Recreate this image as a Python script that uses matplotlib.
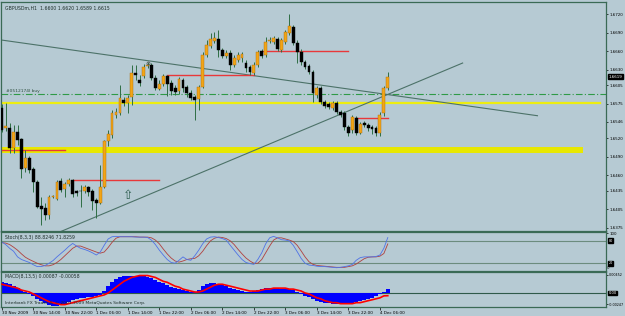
import matplotlib
matplotlib.use('Agg')
import matplotlib.pyplot as plt
import numpy as np

# GBPUSDm H1 bars, 30 Nov 2009 06:00 .. 4 Dec 2009 08:00
opens = [1.6568, 1.6536, 1.6536, 1.6504, 1.6530, 1.6518, 1.6472, 1.6488, 1.6470, 1.6449,
         1.6410, 1.6407, 1.6396, 1.6425, 1.6422, 1.6451, 1.6438, 1.6446, 1.6452, 1.6435,
         1.6435, 1.6435, 1.6441, 1.6435, 1.6420, 1.6415, 1.6441, 1.6515, 1.6525, 1.6557,
         1.6560, 1.6581, 1.6577, 1.6586, 1.6625, 1.6614, 1.6620, 1.6636, 1.6638, 1.6617,
         1.6599, 1.6607, 1.6620, 1.6609, 1.6601, 1.6596, 1.6614, 1.6602, 1.6593, 1.6586,
         1.6583, 1.6602, 1.6654, 1.6668, 1.6677, 1.6680, 1.6662, 1.6652, 1.6657, 1.6638,
         1.6646, 1.6649, 1.6641, 1.6635, 1.6625, 1.6638, 1.6660, 1.6654, 1.6677, 1.6675,
         1.6680, 1.6662, 1.6675, 1.6689, 1.6699, 1.6673, 1.6659, 1.6643, 1.6636, 1.6627,
         1.6589, 1.6601, 1.6578, 1.6575, 1.6568, 1.6577, 1.6562, 1.6560, 1.6538, 1.6533,
         1.6552, 1.6528, 1.6544, 1.6541, 1.6538, 1.6536, 1.6528, 1.6560, 1.6601]
highs = [1.6575, 1.6577, 1.6544, 1.6541, 1.6541, 1.6520, 1.6501, 1.6491, 1.6473, 1.6452,
         1.6425, 1.6415, 1.6428, 1.6428, 1.6452, 1.6456, 1.6449, 1.6456, 1.6454, 1.6436,
         1.6444, 1.6444, 1.6443, 1.6438, 1.6423, 1.6477, 1.6517, 1.6533, 1.6565, 1.6568,
         1.6606, 1.6586, 1.6589, 1.6638, 1.6638, 1.6622, 1.6639, 1.6643, 1.6641, 1.6622,
         1.6614, 1.6623, 1.6622, 1.6614, 1.6606, 1.6618, 1.6617, 1.6606, 1.6598, 1.6589,
         1.6606, 1.6659, 1.6678, 1.6689, 1.6691, 1.6694, 1.6665, 1.6662, 1.6662, 1.6654,
         1.6659, 1.6659, 1.6646, 1.6638, 1.6643, 1.6662, 1.6664, 1.6683, 1.6683, 1.6685,
         1.6683, 1.6681, 1.6694, 1.6720, 1.6702, 1.6678, 1.6664, 1.6646, 1.6639, 1.6630,
         1.6604, 1.6604, 1.6581, 1.6578, 1.6580, 1.6580, 1.6565, 1.6564, 1.6541, 1.6557,
         1.6556, 1.6546, 1.6548, 1.6544, 1.6541, 1.6539, 1.6562, 1.6604, 1.6626]
lows = [1.6530, 1.6531, 1.6496, 1.6496, 1.6509, 1.6456, 1.6465, 1.6464, 1.6433, 1.6407,
        1.6380, 1.6388, 1.6390, 1.6423, 1.6420, 1.6433, 1.6425, 1.6443, 1.6425, 1.6427,
        1.6409, 1.6431, 1.6427, 1.6404, 1.6391, 1.6414, 1.6440, 1.6507, 1.6520, 1.6552,
        1.6557, 1.6572, 1.6560, 1.6573, 1.6614, 1.6604, 1.6617, 1.6633, 1.6614, 1.6598,
        1.6598, 1.6604, 1.6588, 1.6589, 1.6589, 1.6591, 1.6594, 1.6586, 1.6581, 1.6549,
        1.6565, 1.6601, 1.6651, 1.6665, 1.6673, 1.6651, 1.6649, 1.6649, 1.6630, 1.6635,
        1.6643, 1.6643, 1.6627, 1.6622, 1.6622, 1.6635, 1.6649, 1.6651, 1.6673, 1.6672,
        1.6660, 1.6659, 1.6672, 1.6686, 1.6670, 1.6641, 1.6638, 1.6631, 1.6623, 1.6578,
        1.6585, 1.6575, 1.6568, 1.6567, 1.6565, 1.6559, 1.6554, 1.6533, 1.6523, 1.6528,
        1.6525, 1.6527, 1.6538, 1.6531, 1.6527, 1.6523, 1.6523, 1.6556, 1.6598]
closes = [1.6533, 1.6539, 1.6504, 1.6530, 1.6517, 1.6470, 1.6488, 1.6468, 1.6449, 1.6409,
          1.6406, 1.6396, 1.6425, 1.6427, 1.6449, 1.6436, 1.6446, 1.6452, 1.6430, 1.6431,
          1.6434, 1.6441, 1.6433, 1.6418, 1.6415, 1.6441, 1.6515, 1.6527, 1.6560, 1.6562,
          1.6585, 1.6577, 1.6585, 1.6625, 1.6622, 1.6609, 1.6635, 1.6638, 1.6617, 1.6601,
          1.6607, 1.6620, 1.6607, 1.6596, 1.6594, 1.6615, 1.6601, 1.6593, 1.6585, 1.6581,
          1.6602, 1.6654, 1.6670, 1.6680, 1.6681, 1.6662, 1.6652, 1.6657, 1.6638, 1.6649,
          1.6654, 1.6656, 1.6633, 1.6627, 1.6638, 1.6659, 1.6652, 1.6675, 1.6678, 1.6681,
          1.6664, 1.6678, 1.6691, 1.6701, 1.6673, 1.6659, 1.6643, 1.6635, 1.6627, 1.6593,
          1.6601, 1.6578, 1.6572, 1.6570, 1.6577, 1.6562, 1.6557, 1.6538, 1.6528, 1.6554,
          1.6528, 1.6543, 1.6541, 1.6536, 1.6535, 1.6528, 1.6557, 1.6601, 1.6619]

# Stochastic(8,3,3)
stoch_k = [77, 70, 60, 52, 37, 30, 26, 22, 16, 11, 11, 14, 20, 27, 37, 46, 55, 65, 73, 66,
           60, 57, 53, 48, 42, 50, 68, 85, 91, 92, 91, 91, 91, 91, 90, 90, 90, 89, 82, 70,
           55, 42, 30, 22, 20, 28, 37, 30, 28, 40, 55, 72, 85, 90, 91, 89, 86, 82, 68, 55,
           42, 30, 22, 19, 17, 30, 48, 72, 88, 92, 88, 83, 82, 80, 68, 51, 33, 20, 15, 14,
           12, 11, 11, 10, 9, 8, 9, 11, 13, 17, 28, 35, 37, 37, 37, 38, 42, 60, 88.8]
stoch_d = [75, 74, 70, 63, 55, 45, 36, 30, 25, 20, 16, 13, 13, 16, 22, 30, 40, 50, 60, 66,
           66, 62, 58, 54, 50, 47, 50, 62, 76, 87, 91, 91, 91, 91, 91, 90, 90, 90, 88, 82,
           72, 58, 45, 34, 26, 23, 26, 30, 32, 33, 40, 52, 67, 80, 87, 90, 89, 86, 80, 70,
           57, 45, 34, 26, 20, 20, 30, 48, 66, 82, 88, 88, 85, 82, 78, 68, 53, 37, 24, 17,
           14, 13, 12, 11, 10, 9, 9, 9, 11, 13, 18, 25, 32, 36, 37, 37, 39, 46, 71.8]

# MACD(8,13,5), in units of 0.00001
macd_main = [229, 208, 187, 146, 104, 62, 21, -21, -62, -125, -166, -208, -250, -270, -270, -250,
             -229, -187, -146, -125, -104, -104, -83, -83, -62, -42, 42, 146, 229, 291, 333, 354,
             374, 374, 374, 374, 354, 333, 312, 270, 229, 208, 166, 125, 104, 83, 62, 42, 21, 21,
             62, 146, 187, 208, 208, 187, 166, 146, 104, 83, 62, 42, 21, 21, 42, 62, 83, 104,
             104, 104, 104, 83, 83, 83, 62, 21, -21, -62, -83, -125, -166, -187, -208, -208,
             -229, -229, -229, -229, -208, -208, -187, -166, -146, -125, -104, -62, -21, 21, 87]
macd_signal = [187, 166, 146, 125, 104, 62, 42, 21, -21, -62, -104, -146, -187, -208, -229, -250,
               -250, -229, -208, -187, -166, -146, -125, -104, -83, -62, -42, 0, 62, 125, 187, 250,
               291, 333, 354, 374, 374, 374, 354, 333, 291, 250, 229, 187, 146, 125, 83, 62, 42, 21,
               21, 42, 83, 125, 166, 187, 187, 166, 146, 125, 104, 83, 62, 42, 42, 42, 62, 83,
               83, 104, 104, 104, 104, 83, 83, 62, 42, 0, -21, -62, -104, -125, -166, -187,
               -208, -208, -229, -229, -229, -229, -208, -208, -187, -166, -146, -125, -104, -62, -58]

price_ticks = [1.6720, 1.6690, 1.6660, 1.6630, 1.6605, 1.6575, 1.6546, 1.6520,
               1.6490, 1.6460, 1.6435, 1.6405, 1.6375]
date_labels = ['30 Nov 2009', '30 Nov 14:00', '30 Nov 22:00', '1 Dec 06:00', '1 Dec 14:00',
               '1 Dec 22:00', '2 Dec 06:00', '2 Dec 14:00', '2 Dec 22:00', '3 Dec 06:00',
               '3 Dec 14:00', '3 Dec 22:00', '4 Dec 06:00']

# chart objects
yellow_thin = 1.6577
yellow_thick = 1.6500
order_level = 1.6591
red_levels = [1.6500, 1.6452, 1.6621, 1.6661, 1.6553]
red_start = [0, 18, 42, 66, 90]
red_end = [16, 40, 64, 88, 98]
down_line = ([0, 136], [1.6678, 1.6556])
up_line = ([10, 117], [1.6356, 1.6641])

bg = '#B6CAD3'
frame = '#3A6A55'
wick_col = '#2E6E44'
fs = 2.9

n = len(closes)
x = np.arange(n)
o = np.array(opens)
c = np.array(closes)
xlim = (-0.2, 153.4)

fig = plt.figure(figsize=(6.25, 3.16), dpi=100, facecolor=bg)
ax = fig.add_axes([1 / 625, 1 - 231 / 316, 605 / 625, 229 / 316])
ax_st = fig.add_axes([1 / 625, 1 - 270.7 / 316, 605 / 625, 39.2 / 316])
ax_md = fig.add_axes([1 / 625, 1 - 306.5 / 316, 605 / 625, 34.6 / 316])

for a in (ax, ax_st, ax_md):
    a.set_facecolor(bg)
    a.set_xlim(xlim)
    for s in a.spines.values():
        s.set_color(frame)
        s.set_linewidth(0.9)
    a.yaxis.tick_right()
    a.tick_params(axis='y', length=1.5, width=0.5, labelsize=fs, pad=0.8, colors='black')
    a.tick_params(axis='x', length=0)
    a.set_xticks([])

# --- main price panel ---
ax.set_ylim(1.63701, 1.67394)
ax.axhline(yellow_thick, xmin=0, xmax=(580 - 1) / 605, color='#E8E800', lw=4.3, zorder=1)
ax.axhline(yellow_thin, xmin=0, xmax=(600 - 1) / 605, color='#EDED10', lw=1.6, zorder=1)
ax.axhline(order_level, color='#2F9A47', lw=0.8, ls=(0, (6, 2, 1, 2)), zorder=1)
ax.text(1.0, order_level + 0.0002, '#0512174l buy', fontsize=3.2, color='#2E4E3E', va='bottom')

ax.plot(*down_line, color='#4C7268', lw=0.8, zorder=2)
ax.plot(*up_line, color='#4C7268', lw=0.8, zorder=2)

for lvl, s0, s1 in zip(red_levels, red_start, red_end):
    ax.plot([s0, s1], [lvl, lvl], color='#E8383A', lw=1.0, zorder=3)

ax.vlines(x, lows, highs, color=wick_col, lw=0.7, zorder=4)
up = c >= o
ax.bar(x[up], (c - o)[up], bottom=o[up], width=0.72, color='#F2A516',
       edgecolor='#A86A10', linewidth=0.3, zorder=5)
ax.bar(x[~up], (o - c)[~up], bottom=c[~up], width=0.72, color='black',
       edgecolor='black', linewidth=0.3, zorder=5)

ax.plot([37], [1.6641], marker='o', ms=2.2, mfc='none', mec='#505050', mew=0.5, zorder=6)
ax.text(32, 1.6427, '\u21e7', fontsize=9, color='#2E5E50', ha='center', va='center', zorder=6)

ax.set_yticks(price_ticks)
ax.set_yticklabels(['%.4f' % p for p in price_ticks])
ax.text(0.006, 0.985, 'GBPUSDm,H1  1.6600 1.6620 1.6589 1.6615', transform=ax.transAxes,
        fontsize=3.3, color='#1E2E2A', va='top')
ax.annotate('%.4f' % closes[-1], xy=(1.0, closes[-1]), xycoords=('axes fraction', 'data'),
            xytext=(2.0, 0), textcoords='offset points', fontsize=fs, color='white',
            va='center', bbox=dict(boxstyle='square,pad=0.12', fc='black', ec='black'))

# --- stochastic panel ---
ax_st.set_ylim(0, 105)
for lvl in (80, 20):
    ax_st.axhline(lvl, color='#6C8C7E', lw=0.8)
ax_st.plot(x, stoch_d, color='#B0403E', lw=0.6)
ax_st.plot(x, stoch_k, color='#4F72E6', lw=0.6)
ax_st.set_yticks([100])
ax_st.set_yticklabels(['100'])
ax_st.text(1.0, 8, ' 0', transform=ax_st.get_yaxis_transform(), fontsize=2.6,
           color='black', va='center', ha='left')
for lvl in (80, 20):
    ax_st.annotate(str(lvl), xy=(1.0, lvl), xycoords=('axes fraction', 'data'),
                   xytext=(2.0, 0), textcoords='offset points', fontsize=2.4, color='white',
                   va='center', bbox=dict(boxstyle='square,pad=0.1', fc='black', ec='black'))
ax_st.text(0.006, 0.9, 'Stoch(8,3,3) 88.8246 71.8259', transform=ax_st.transAxes,
           fontsize=3.3, color='#1E2E2A', va='top')

# --- MACD panel ---
m_main = np.array(macd_main) * 1e-5
m_sig = np.array(macd_signal) * 1e-5
ax_md.set_ylim(-0.0029, 0.00452)
ax_md.axhline(0, color='#2F5A4A', lw=0.8, zorder=1)
ax_md.bar(x, m_main, width=1.0, color='#0000FF', zorder=2)
ax_md.plot(x, m_sig, color='#FF0000', lw=1.2, zorder=3)
ax_md.set_yticks([0.00395, -0.00247])
ax_md.set_yticklabels(['0.00452', '-0.00247'])
ax_md.tick_params(axis='y', labelsize=2.4, pad=0.5)
ax_md.annotate('0.00', xy=(1.0, 0), xycoords=('axes fraction', 'data'),
               xytext=(2.0, 0), textcoords='offset points', fontsize=2.6, color='white',
               va='center', bbox=dict(boxstyle='square,pad=0.1', fc='black', ec='black'))
ax_md.text(0.006, 0.93, 'MACD(8,13,5) 0.00087 -0.00058', transform=ax_md.transAxes,
           fontsize=3.3, color='#1E2E2A', va='top')
ax_md.text(0.006, 0.04, 'Interbank FX Trader 4, \u00a9 2001-2009 MetaQuotes Software Corp.',
           transform=ax_md.transAxes, fontsize=3.2, color='#1E2E2A', va='bottom')

# time axis
ax_md.set_xticks(np.arange(0, 97, 8))
ax_md.set_xticklabels(date_labels, ha='left', fontsize=3.0)
ax_md.tick_params(axis='x', length=2.5, width=0.5, pad=0.5, colors='black')

fig.savefig('out.png', dpi=100, facecolor=bg)
